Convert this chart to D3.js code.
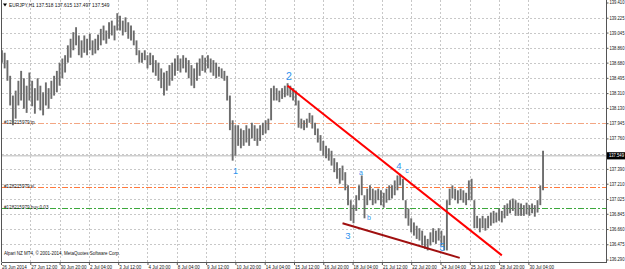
<!DOCTYPE html>
<html><head><meta charset="utf-8">
<script src="https://cdn.jsdelivr.net/npm/d3@7/dist/d3.min.js"></script>
<style>html,body{margin:0;padding:0;background:#fff;overflow:hidden}</style>
</head><body><svg id="c" width="625" height="269"></svg>
<script>
const symbolTitle = "EURJPY,H1 137.518 137.615 137.497 137.549";
const copyright = "Alpari NZ MT4, \u00a9 2001-2014, MetaQuotes Software Corp.";
const timeLabels = ["26 Jun 2014","27 Jun 12:00","30 Jun 20:00","2 Jul 04:00","3 Jul 12:00","4 Jul 20:00","8 Jul 04:00","9 Jul 12:00","10 Jul 20:00","14 Jul 04:00","15 Jul 12:00","16 Jul 20:00","18 Jul 04:00","21 Jul 12:00","22 Jul 20:00","24 Jul 04:00","25 Jul 12:00","28 Jul 20:00","30 Jul 04:00"];
const barsPerTimeLabel = 32;
const priceLabels = ["139.410","139.225","139.045","138.860","138.680","138.495","138.310","138.130","137.945","137.760","137.575","137.390","137.210","137.025","136.845","136.660","136.475","136.290"];
const barsPerGroup = 3; // each entry = high/low of three H1 bars
const groupHigh = [138.83,138.80,138.71,138.52,138.28,138.34,138.46,138.58,138.49,138.40,
138.56,138.46,138.37,138.49,138.40,138.32,138.44,138.37,138.46,138.52,
138.58,138.68,138.73,138.77,138.89,138.97,139.05,139.11,139.01,138.95,
139.01,138.97,139.03,138.95,138.97,139.02,139.09,139.13,139.07,139.17,
139.19,139.13,139.28,139.25,139.19,139.23,139.17,139.13,139.07,138.95,
138.83,138.80,138.83,138.77,138.80,138.77,138.71,138.68,138.61,138.56,
138.58,138.65,138.68,138.73,138.77,138.73,138.77,138.74,138.71,138.65,
138.61,138.68,138.73,138.77,138.74,138.77,138.73,138.71,138.68,138.63,
138.61,138.58,138.52,138.28,137.98,137.92,137.92,137.88,137.86,137.92,
137.88,137.95,137.92,137.88,137.92,137.95,137.98,138.00,138.37,138.40,
138.37,138.34,138.37,138.40,138.43,138.40,138.37,138.34,138.22,138.00,
137.98,138.00,138.07,138.04,137.95,137.88,137.80,137.73,137.67,137.64,
137.61,137.52,137.47,137.40,137.43,137.35,137.19,137.01,136.95,137.07,
137.19,137.31,137.07,137.15,137.19,137.15,137.13,137.15,137.13,137.10,
137.15,137.19,137.19,137.25,137.31,137.33,137.27,137.01,136.91,136.79,
136.74,136.70,136.67,136.64,136.58,136.54,136.62,136.67,136.64,136.67,
136.64,136.58,137.01,137.15,137.19,137.15,137.13,137.15,137.13,137.10,
137.25,137.27,137.01,136.82,136.79,136.82,136.79,136.82,136.86,136.88,
136.86,136.91,136.88,136.95,136.97,137.01,137.03,137.01,136.98,136.97,
136.95,136.98,136.95,136.97,136.95,137.01,137.19,137.61];
const groupLow = [138.68,138.61,138.46,138.16,137.92,138.00,138.16,138.22,138.12,138.07,
138.22,138.15,138.06,138.22,138.10,138.04,138.16,138.12,138.24,138.28,
138.32,138.40,138.49,138.56,138.68,138.74,138.83,138.89,138.77,138.74,
138.80,138.77,138.83,138.77,138.79,138.83,138.89,138.95,138.91,138.97,
139.01,138.95,139.07,139.07,139.01,139.05,138.97,138.95,138.89,138.77,
138.68,138.68,138.71,138.61,138.65,138.56,138.52,138.46,138.37,138.28,
138.34,138.40,138.46,138.52,138.58,138.56,138.61,138.56,138.49,138.40,
138.37,138.46,138.52,138.58,138.56,138.61,138.56,138.52,138.49,138.51,
138.49,138.46,138.22,137.86,137.49,137.55,137.67,137.64,137.67,137.71,
137.67,137.76,137.73,137.67,137.73,137.80,137.82,137.86,137.98,138.22,
138.22,138.20,138.24,138.26,138.28,138.26,138.22,138.16,137.89,137.88,
137.86,137.89,137.95,137.88,137.80,137.71,137.61,137.55,137.52,137.49,
137.43,137.35,137.27,137.21,137.25,137.13,136.95,136.76,136.73,136.88,
137.01,137.07,136.79,136.95,137.01,136.95,136.97,137.01,136.95,136.92,
136.98,137.01,137.03,137.07,137.13,137.19,137.01,136.79,136.70,136.62,
136.58,136.54,136.52,136.46,136.42,136.40,136.46,136.50,136.48,136.52,
136.46,136.40,136.40,136.95,137.03,137.01,136.97,137.01,136.98,136.95,
137.01,137.01,136.67,136.67,136.62,136.67,136.64,136.67,136.70,136.73,
136.74,136.76,136.74,136.79,136.82,136.85,136.88,136.82,136.82,136.82,
136.82,136.84,136.82,136.85,136.81,136.86,136.95,137.13];
const orderNames = ["#128215979 tp","#128215979 sl","#128215979 buy 0.03"];
const orderPrices = [137.95,137.165,136.92];
const orderColors = ["#f3a683","#ff7a3d","#3ca83c"];
const bidPrice = 137.549;
const bidLabel = "137.549";
const trendFrom = [[313,138.40],[373,136.73]];
const trendTo = [[547,136.34],[501,136.31]];
const trendColors = ["#ff0000","#a01010"];
const waveText = ["1","2","3","4","5","a","b","c"];
const waveBar = [256,314.5,379,434.7,482,393,402,443.4];
const wavePrice = [137.37,138.52,136.58,137.43,136.43,137.35,136.80,137.37];
const waveSize = [9,10.5,9.5,9.5,10,7,7,7];

const svg = d3.select("#c");
const W = 625, H = 269, plotR = 606, plotB = 262, plotL = 2;
const x = d3.scaleLinear().domain([0, 662]).range([1, 1 + 662 * 0.9156]);
const y = d3.scaleLinear().domain([136.29, 139.41]).range([259.5, 2.5]);
const FONT = "'Liberation Sans', Arial, sans-serif";

svg.append("rect").attr("width", W).attr("height", H).attr("fill", "#fff");
svg.append("defs").append("clipPath").attr("id","clip").append("rect")
  .attr("x", plotL).attr("y", 0).attr("width", plotR - plotL).attr("height", plotB);

const tickIdx = timeLabels.map((d, i) => i * barsPerTimeLabel);
const priceVals = priceLabels.map(Number);

// grid
const grid = svg.append("g").attr("clip-path","url(#clip)");
grid.selectAll(".vg").data(tickIdx.slice(1)).join("line")
  .attr("x1", d => Math.round(x(d)) + 0.5).attr("x2", d => Math.round(x(d)) + 0.5)
  .attr("y1", 0).attr("y2", plotB)
  .attr("stroke", "#c8c8c8").attr("stroke-dasharray", "2,2");
grid.selectAll(".hg").data(priceVals.slice(1, -1)).join("line")
  .attr("x1", plotL).attr("x2", plotR)
  .attr("y1", d => Math.round(y(d)) + 0.5).attr("y2", d => Math.round(y(d)) + 0.5)
  .attr("stroke", "#c8c8c8").attr("stroke-dasharray", "2,2");

// order lines
const ol = svg.append("g").attr("clip-path","url(#clip)");
orderPrices.forEach((p, i) => {
  const yy = Math.round(y(p)) + 0.5;
  ol.append("line").attr("x1", plotL).attr("x2", plotR).attr("y1", yy).attr("y2", yy)
    .attr("stroke", orderColors[i]).attr("stroke-width", 1).attr("stroke-dasharray", "6,2,2,2");
  ol.append("text").attr("x", 4).attr("y", yy + 0.5).text(orderNames[i])
    .attr("font-family", FONT).attr("font-size", 4.6).attr("fill", "#222");
});
// bid line
ol.append("line").attr("x1", plotL).attr("x2", plotR)
  .attr("y1", y(bidPrice)).attr("y2", y(bidPrice))
  .attr("stroke", "#cfcfcf").attr("stroke-width", 1.5);

// bars
const bars = svg.append("g").attr("clip-path","url(#clip)");
bars.selectAll("line").data(groupHigh.map((h, k) => ({ k, h, l: groupLow[k] }))).join("line")
  .attr("x1", d => x(d.k * barsPerGroup + 1)).attr("x2", d => x(d.k * barsPerGroup + 1))
  .attr("y1", d => y(d.h)).attr("y2", d => y(d.l))
  .attr("stroke", "#6c6c6c").attr("stroke-width", 1.9);

// trend lines
trendFrom.forEach((f, i) => {
  svg.append("line")
    .attr("x1", x(f[0])).attr("y1", y(f[1]))
    .attr("x2", x(trendTo[i][0])).attr("y2", y(trendTo[i][1]))
    .attr("stroke", trendColors[i]).attr("stroke-width", 2);
});

// wave labels
waveText.forEach((t, i) => {
  svg.append("text").attr("x", x(waveBar[i])).attr("y", y(wavePrice[i]))
    .attr("text-anchor", "middle").attr("dominant-baseline", "central")
    .attr("font-family", FONT).attr("font-size", waveSize[i]).attr("fill", "#2f93ee").text(t);
});

// frame
svg.append("line").attr("x1", plotL - 0.5).attr("x2", plotL - 0.5).attr("y1", 0).attr("y2", plotB).attr("stroke", "#555");
svg.append("line").attr("x1", plotL).attr("x2", plotR).attr("y1", plotB + 0.5).attr("y2", plotB + 0.5).attr("stroke", "#555");

// right axis
const bidY = y(bidPrice);
const ya = svg.append("g").attr("transform", `translate(${plotR + 0.5},0)`)
  .call(d3.axisRight(y).tickValues(priceVals)
    .tickFormat((d, i) => Math.abs(y(d) - bidY) < 5 ? "" : priceLabels[i]).tickSize(2).tickPadding(1));
ya.select(".domain").attr("stroke", "#555").attr("d", `M0,0V${plotB + 1}`);
ya.selectAll("line").attr("stroke", "#555");
ya.selectAll("text").attr("font-family", FONT).attr("font-size", 4.5).attr("fill", "#111")
  .attr("textLength", 15).attr("lengthAdjust", "spacingAndGlyphs");

// bid box
svg.append("rect").attr("x", plotR + 1).attr("y", bidY - 3.6).attr("width", W - plotR - 1).attr("height", 7.2).attr("fill", "#000");
svg.append("text").attr("x", plotR + 3).attr("y", bidY).attr("dominant-baseline", "central")
  .attr("font-family", FONT).attr("font-size", 4.5).attr("fill", "#fff")
  .attr("textLength", 15).attr("lengthAdjust", "spacingAndGlyphs").text(bidLabel);

// bottom axis
const xa = svg.append("g").attr("transform", `translate(0,${plotB + 0.5})`)
  .call(d3.axisBottom(x).tickValues(tickIdx).tickFormat((d, i) => timeLabels[i]).tickSize(2.5).tickPadding(0.5));
xa.select(".domain").remove();
xa.selectAll("line").attr("stroke", "#555");
xa.selectAll("text").attr("text-anchor", "start").attr("dx", 0.5)
  .attr("font-family", FONT).attr("font-size", 4.5).attr("fill", "#111");

// title and copyright
svg.append("path").attr("d", "M3,3.5 L7,3.5 L5,6.5 Z").attr("fill", "#000");
svg.append("text").attr("x", 9).attr("y", 7).attr("font-family", FONT).attr("font-size", 4.8).attr("fill", "#111").text(symbolTitle);
svg.append("text").attr("x", 4).attr("y", 254.5).attr("font-family", FONT).attr("font-size", 4.5).attr("fill", "#111").text(copyright);
</script></body></html>
